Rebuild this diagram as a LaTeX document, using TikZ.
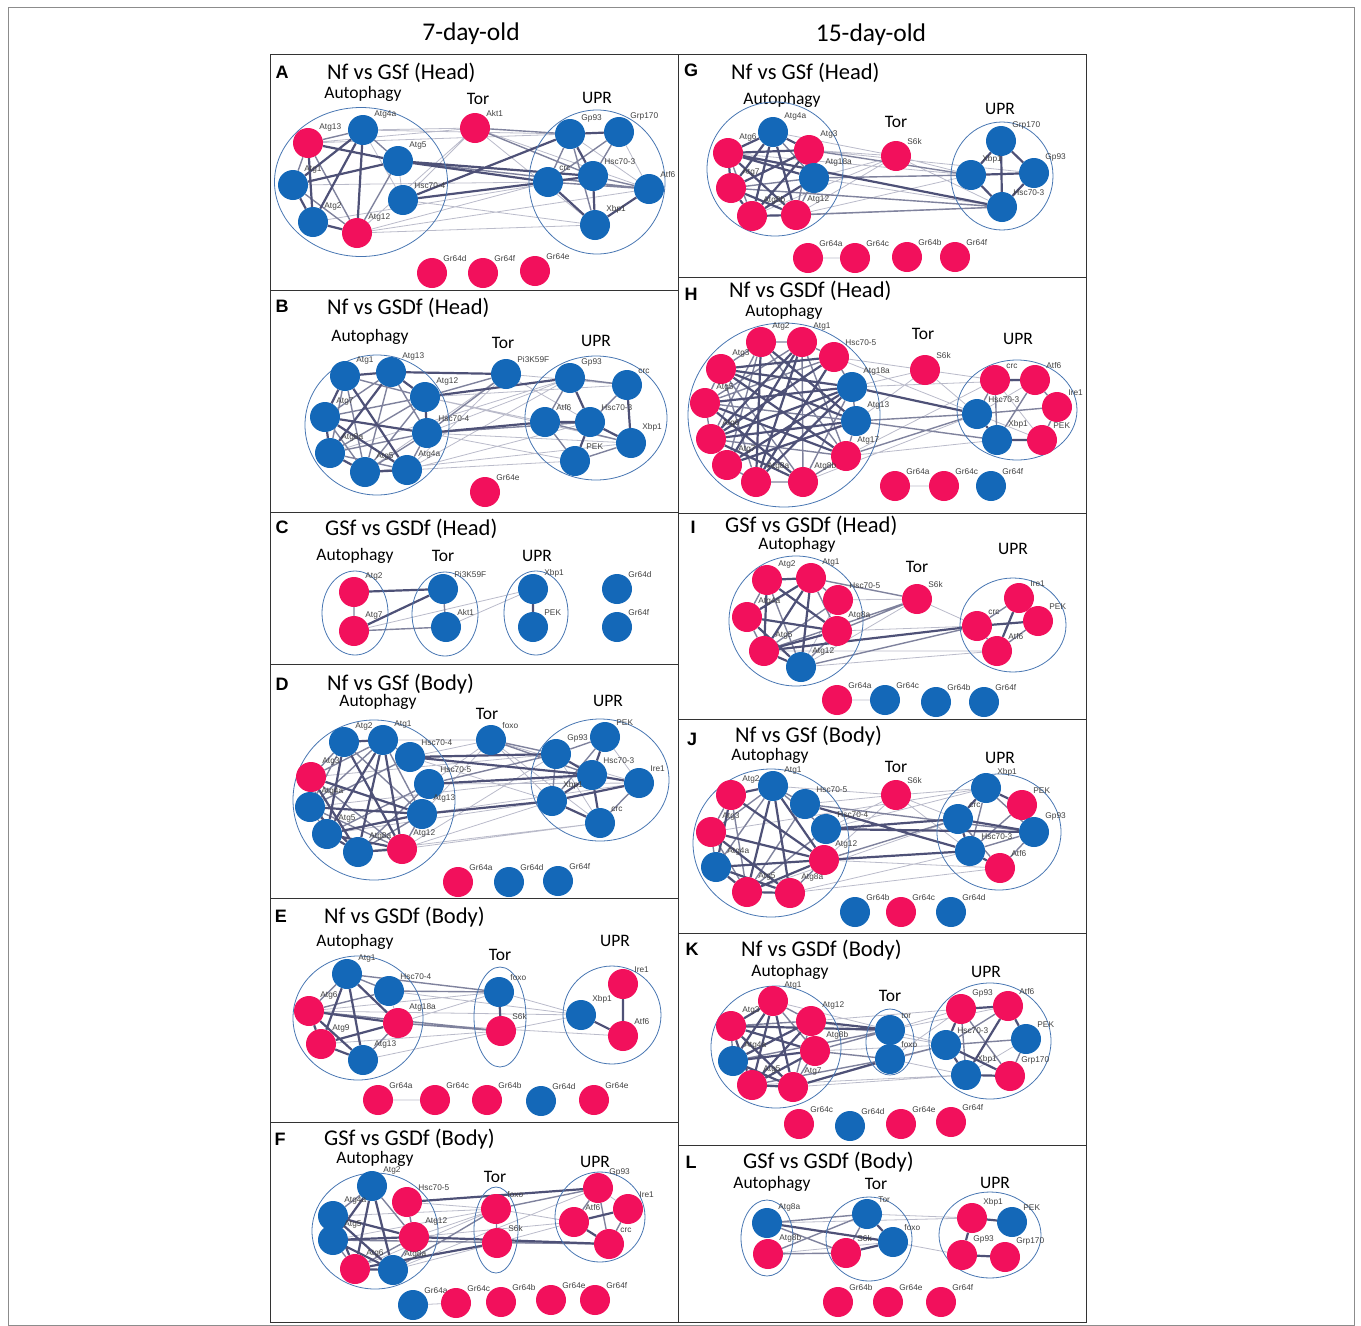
\documentclass[tikz,border=0pt]{standalone}
\usepackage{fontspec}
\setmainfont{Liberation Sans}
\newfontfamily\titlefont{Carlito}
\usetikzlibrary{shapes.geometric,backgrounds}
\definecolor{genered}{RGB}{242,16,92}
\definecolor{geneblue}{RGB}{20,104,184}
\definecolor{edgec}{RGB}{58,62,104}
\definecolor{ringc}{RGB}{72,118,178}

\begin{document}
\begin{tikzpicture}[
    x=1pt, y=-1pt,
    gene/.style={circle, minimum size=30pt, inner sep=0pt},
    gr/.style={gene, fill=genered, label={[lab]45:#1}},
    gb/.style={gene, fill=geneblue, label={[lab]45:#1}},
    lab/.style={font=\fontsize{8.3}{9}\selectfont, text=black!75, inner sep=0.5pt},
    grp/.style={ellipse, draw=ringc, line width=0.8pt, inner sep=0pt},
    se/.style={draw=edgec!90, line width=2.2pt},
    me/.style={draw=edgec!65, line width=1.4pt},
    we/.style={draw=edgec!35, line width=0.8pt},
    ttl/.style={font=\titlefont\fontsize{22.5}{25}\selectfont, anchor=west, inner sep=0pt},
    head/.style={font=\titlefont\fontsize{25.5}{28}\selectfont},
    grl/.style={font=\titlefont\fontsize{17.5}{19}\selectfont, inner sep=0pt},
    pl/.style={font=\bfseries\fontsize{18}{20}\selectfont},
    frame/.style={draw=black!80, line width=0.8pt}
]
\useasboundingbox (0,0) rectangle (1361,1326);

% frames and column heads
\draw[draw=black!45, line width=0.6pt] (8,7) rectangle (1354,1325);
\draw[frame] (270,54) rectangle (1086,1322);
\draw[frame] (678,54) -- (678,1322);
\draw[frame] (270,290) -- (678,290) (270,512) -- (678,512) (270,664) -- (678,664)
    (270,898) -- (678,898) (270,1122) -- (678,1122);
\draw[frame] (678,277) -- (1086,277) (678,513) -- (1086,513) (678,719) -- (1086,719)
    (678,933) -- (1086,933) (678,1145) -- (1086,1145);
\node[head] (h7) at (471,34) {7-day-old};
\node[head] (h15) at (871,35) {15-day-old};

% ---------- A ----------
\node[pl] (pA) at (282,72) {A};
\node[ttl] (tA) at (327,73) {Nf vs GSf (Head)};
\node[grl] (lA1) at (363,94) {Autophagy};
\node[grl] (lA2) at (478,99) {Tor};
\node[grl] (lA3) at (597,98) {UPR};
\node[grp, minimum width=173pt, minimum height=149pt] (eA1) at (361,182) {};
\node[grp, minimum width=136pt, minimum height=144pt] (eA2) at (597,182) {};
\node[gr=Atg13] (Aa13) at (308,143) {};
\node[gb=Atg4a] (Aa4) at (363,130) {};
\node[gb=Atg5] (Aa5) at (398,161) {};
\node[gb=Atg1] (Aa1) at (293,185) {};
\node[gb=Hsc70-4] (Ah4) at (403,200) {};
\node[gb=Atg2] (Aa2) at (313,222) {};
\node[gr=Atg12] (Aa12) at (357,233) {};
\node[gr=Akt1] (Aakt) at (475,128) {};
\node[gb=Gp93] (Agp) at (570,134) {};
\node[gb=Grp170] (Agrp) at (619,132) {};
\node[gb=crc] (Acrc) at (548,182) {};
\node[gb=Hsc70-3] (Ah3) at (593,176) {};
\node[gb=Atf6] (Aatf) at (649,189) {};
\node[gb=Xbp1] (Axbp) at (595,225) {};
\node[gr=Gr64d] (Ag64d) at (432,273) {};
\node[gr=Gr64f] (Ag64f) at (483,273) {};
\node[gr=Gr64e] (Ag64e) at (535,271) {};
\begin{scope}[on background layer]
\draw[we] (Aa5) -- (Ah4) (Aa4) -- (Ah4) (Aa4) -- (Aakt) (Aa13) -- (Aakt) (Aakt) -- (Ah4)
    (Aakt) -- (Aa12) (Aakt) -- (Axbp) (Aakt) -- (Aatf) (Aa12) -- (Acrc) (Aa12) -- (Axbp)
    (Aa12) -- (Aatf) (Aa2) -- (Ah3) (Aa4) -- (Agp) (Aa13) -- (Agp) (Agrp) -- (Aatf)
    (Agp) -- (Aatf) (Ah4) -- (Axbp) (Aa1) -- (Acrc);
\draw[me] (Aa13) -- (Aa4) (Aa13) -- (Aa1) (Aa13) -- (Aa12) (Aa4) -- (Aa5) (Aa5) -- (Aa12)
    (Aa1) -- (Aa12) (Aakt) -- (Agp) (Aakt) -- (Ah3) (Agp) -- (Acrc) (Agrp) -- (Ah3)
    (Agrp) -- (Acrc) (Ah3) -- (Aatf) (Acrc) -- (Aatf) (Aa5) -- (Aatf) (Agp) -- (Axbp);
\draw[se] (Aa13) -- (Aa5) (Aa4) -- (Aa1) (Aa4) -- (Aa2) (Aa4) -- (Aa12) (Aa5) -- (Aa1)
    (Aa1) -- (Aa2) (Aa2) -- (Aa12) (Aa13) -- (Aa2) (Aa5) -- (Ah3) (Ah4) -- (Agp)
    (Ah4) -- (Acrc) (Agp) -- (Agrp) (Agp) -- (Ah3) (Acrc) -- (Ah3) (Axbp) -- (Aatf)
    (Ah3) -- (Axbp) (Acrc) -- (Axbp) (Aa5) -- (Acrc);
\end{scope}

% ---------- B ----------
\node[pl] (pB) at (282,306) {B};
\node[ttl] (tB) at (327,308) {Nf vs GSDf (Head)};
\node[grl] (lB1) at (370,337) {Autophagy};
\node[grl] (lB2) at (503,343) {Tor};
\node[grl] (lB3) at (596,341) {UPR};
\node[grp, minimum width=144pt, minimum height=140pt] (eB1) at (377,425) {};
\node[grp, minimum width=142pt, minimum height=124pt] (eB2) at (596,418) {};
\node[gb=Atg1] (Ba1) at (345,376) {};
\node[gb=Atg13] (Ba13) at (391,372) {};
\node[gb=Atg12] (Ba12) at (425,397) {};
\node[gb=Atg7] (Ba7) at (325,417) {};
\node[gb=Hsc70-4] (Bh4) at (427,433) {};
\node[gb=Atg8a] (Ba8) at (330,453) {};
\node[gb=Atg5] (Ba5) at (365,472) {};
\node[gb=Atg4a] (Ba4) at (407,470) {};
\node[gb=Pi3K59F] (Bpi) at (506,374) {};
\node[gb=Gp93] (Bgp) at (570,378) {};
\node[gb=crc] (Bcrc) at (627,385) {};
\node[gb=Atf6] (Batf) at (545,422) {};
\node[gb=Hsc70-3] (Bh3) at (590,422) {};
\node[gb=Xbp1] (Bxbp) at (631,443) {};
\node[gb=PEK] (Bpek) at (575,461) {};
\node[gr=Gr64e] (Bg64e) at (485,492) {};
\begin{scope}[on background layer]
\draw[we] (Bpi) -- (Bcrc) (Bpi) -- (Bh3) (Bpi) -- (Ba4) (Bpi) -- (Ba5) (Ba4) -- (Bpek)
    (Ba4) -- (Bh3) (Ba5) -- (Bxbp) (Ba12) -- (Bcrc) (Ba12) -- (Bxbp) (Bh4) -- (Bgp)
    (Bh4) -- (Bpek) (Ba8) -- (Bgp) (Ba4) -- (Bgp) (Ba12) -- (Batf) (Bh4) -- (Bxbp);
\draw[me] (Ba1) -- (Ba12) (Ba1) -- (Ba8) (Ba1) -- (Ba5) (Ba13) -- (Ba7) (Ba13) -- (Ba5)
    (Ba13) -- (Bh4) (Ba12) -- (Ba7) (Ba12) -- (Ba5) (Ba12) -- (Ba8) (Ba7) -- (Ba5)
    (Ba8) -- (Ba4) (Ba8) -- (Bh4) (Bh4) -- (Ba4) (Ba5) -- (Bh4) (Bh4) -- (Bh3)
    (Ba12) -- (Bpi) (Bgp) -- (Batf) (Bgp) -- (Bcrc) (Batf) -- (Bpek) (Bcrc) -- (Bh3)
    (Bxbp) -- (Bpek) (Batf) -- (Bxbp) (Bpi) -- (Bh4);
\draw[se] (Ba1) -- (Ba13) (Ba13) -- (Bpi) (Ba1) -- (Ba7) (Ba7) -- (Ba8) (Ba8) -- (Ba5)
    (Ba5) -- (Ba4) (Ba13) -- (Ba12) (Ba12) -- (Bh4) (Ba1) -- (Ba4) (Ba13) -- (Ba8)
    (Ba7) -- (Bh4) (Ba7) -- (Ba4) (Bh4) -- (Batf) (Bgp) -- (Bh3) (Batf) -- (Bh3)
    (Bh3) -- (Bpek) (Bh3) -- (Bxbp) (Bcrc) -- (Bxbp) (Ba12) -- (Bgp);
\end{scope}

% ---------- C ----------
\node[pl] (pC) at (282,527) {C};
\node[ttl] (tC) at (325,529) {GSf vs GSDf (Head)};
\node[grl] (lC1) at (355,556) {Autophagy};
\node[grl] (lC2) at (443,556) {Tor};
\node[grl] (lC3) at (537,556) {UPR};
\node[grp, minimum width=66pt, minimum height=84pt] (eC1) at (355,613) {};
\node[grp, minimum width=66pt, minimum height=84pt] (eC2) at (445,614) {};
\node[grp, minimum width=64pt, minimum height=84pt] (eC3) at (536,613) {};
\node[gr=Atg2] (Ca2) at (354,592) {};
\node[gr=Atg7] (Ca7) at (354,631) {};
\node[gb=Pi3K59F] (Cpi) at (443,589) {};
\node[gb=Akt1] (Cakt) at (446,627) {};
\node[gb=Xbp1] (Cxbp) at (533,589) {};
\node[gb=PEK] (Cpek) at (533,627) {};
\node[gb=Gr64d] (Cg64d) at (617,589) {};
\node[gb=Gr64f] (Cg64f) at (617,627) {};
\begin{scope}[on background layer]
\draw[we] (Ca7) -- (Cxbp) (Cakt) -- (Cxbp);
\draw[me] (Ca2) -- (Ca7) (Ca7) -- (Cakt) (Cpi) -- (Cakt);
\draw[se] (Ca2) -- (Cpi) (Ca7) -- (Cpi) (Cxbp) -- (Cpek);
\end{scope}

% ---------- D ----------
\node[pl] (pD) at (282,684) {D};
\node[ttl] (tD) at (327,684) {Nf vs GSf (Body)};
\node[grl] (lD1) at (378,702) {Autophagy};
\node[grl] (lD2) at (487,714) {Tor};
\node[grl] (lD3) at (608,701) {UPR};
\node[grp, minimum width=162pt, minimum height=160pt] (eD1) at (374,800) {};
\node[grp, minimum width=138pt, minimum height=122pt] (eD2) at (600,780) {};
\node[gb=Atg2] (Da2) at (344,742) {};
\node[gb=Atg1] (Da1) at (383,740) {};
\node[gb=Hsc70-4] (Dh4) at (410,757) {};
\node[gr=Atg3] (Da3) at (311,777) {};
\node[gb=Hsc70-5] (Dh5) at (429,784) {};
\node[gb=Atg4a] (Da4) at (310,807) {};
\node[gb=Atg13] (Da13) at (422,814) {};
\node[gb=Atg5] (Da5) at (327,834) {};
\node[gb=Atg8a] (Da8) at (358,852) {};
\node[gr=Atg12] (Da12) at (402,849) {};
\node[gb=foxo] (Dfoxo) at (491,740) {};
\node[gb=Gp93] (Dgp) at (556,754) {};
\node[gb=PEK] (Dpek) at (605,737) {};
\node[gb=Hsc70-3] (Dh3) at (592,775) {};
\node[gb=Ire1] (Dire) at (639,783) {};
\node[gb=Xbp1] (Dxbp) at (552,801) {};
\node[gb=crc] (Dcrc) at (600,823) {};
\node[gr=Gr64a] (Dg64a) at (458,882) {};
\node[gb=Gr64d] (Dg64d) at (509,882) {};
\node[gb=Gr64f] (Dg64f) at (558,881) {};
\begin{scope}[on background layer]
\draw[we] (Da1) -- (Dfoxo) (Dh4) -- (Dfoxo) (Dh5) -- (Dfoxo) (Da13) -- (Dfoxo)
    (Dfoxo) -- (Dxbp) (Dfoxo) -- (Dcrc) (Dfoxo) -- (Dire) (Da12) -- (Dcrc) (Da12) -- (Dxbp)
    (Da8) -- (Dcrc) (Da5) -- (Dxbp) (Da4) -- (Dh3) (Da3) -- (Dgp) (Da13) -- (Dire)
    (Dh5) -- (Dire) (Dh4) -- (Dxbp) (Da12) -- (Dgp) (Dpek) -- (Dire) (Dgp) -- (Dcrc);
\draw[me] (Da2) -- (Da3) (Da2) -- (Da4) (Da2) -- (Da13) (Da1) -- (Da3) (Da1) -- (Da4)
    (Da1) -- (Dh4) (Da1) -- (Da13) (Da3) -- (Da4) (Da3) -- (Da5) (Da3) -- (Da12)
    (Da4) -- (Da5) (Da4) -- (Da12) (Da13) -- (Da8) (Da13) -- (Da12) (Dh5) -- (Da8)
    (Dh5) -- (Da5) (Dh4) -- (Da4) (Dfoxo) -- (Dgp) (Dfoxo) -- (Dh3) (Dgp) -- (Dxbp)
    (Dgp) -- (Dpek) (Dpek) -- (Dxbp) (Dcrc) -- (Dire) (Dh5) -- (Dgp);
\draw[se] (Da2) -- (Da1) (Da2) -- (Da5) (Da1) -- (Da5) (Da1) -- (Da12) (Da3) -- (Da13)
    (Da3) -- (Da8) (Da4) -- (Da13) (Da4) -- (Da8) (Da5) -- (Da8) (Da5) -- (Da12)
    (Da8) -- (Da12) (Da2) -- (Da12) (Da1) -- (Da8) (Da13) -- (Da5) (Dh4) -- (Dgp)
    (Dh5) -- (Dh3) (Dh4) -- (Dh3) (Da13) -- (Dxbp) (Dgp) -- (Dh3) (Dpek) -- (Dh3)
    (Dxbp) -- (Dh3) (Dh3) -- (Dcrc) (Dxbp) -- (Dcrc) (Dh3) -- (Dire) (Dxbp) -- (Dire);
\end{scope}

% ---------- E ----------
\node[pl] (pE) at (281,916) {E};
\node[ttl] (tE) at (324,917) {Nf vs GSDf (Body)};
\node[grl] (lE1) at (355,942) {Autophagy};
\node[grl] (lE2) at (500,955) {Tor};
\node[grl] (lE3) at (615,941) {UPR};
\node[grp, minimum width=130pt, minimum height=124pt] (eE1) at (358,1018) {};
\node[grp, minimum width=52pt, minimum height=100pt] (eE2) at (500,1017) {};
\node[grp, minimum width=98pt, minimum height=98pt] (eE3) at (612,1015) {};
\node[gb=Atg1] (Ea1) at (347,974) {};
\node[gb=Hsc70-4] (Eh4) at (389,991) {};
\node[gr=Atg6] (Ea6) at (309,1011) {};
\node[gr=Atg18a] (Ea18) at (398,1023) {};
\node[gr=Atg9] (Ea9) at (321,1044) {};
\node[gb=Atg13] (Ea13) at (363,1060) {};
\node[gb=foxo] (Efoxo) at (499,992) {};
\node[gr=S6k] (Es6k) at (501,1031) {};
\node[gr=Ire1] (Eire) at (623,984) {};
\node[gb=Xbp1] (Exbp) at (581,1015) {};
\node[gr=Atf6] (Eatf) at (623,1036) {};
\node[gr=Gr64a] (Eg64a) at (378,1100) {};
\node[gr=Gr64c] (Eg64c) at (435,1100) {};
\node[gr=Gr64b] (Eg64b) at (487,1100) {};
\node[gb=Gr64d] (Eg64d) at (541,1101) {};
\node[gr=Gr64e] (Eg64e) at (594,1100) {};
\begin{scope}[on background layer]
\draw[we] (Eh4) -- (Ea18) (Eh4) -- (Exbp) (Ea6) -- (Efoxo) (Ea18) -- (Efoxo) (Ea9) -- (Es6k)
    (Ea13) -- (Es6k) (Efoxo) -- (Exbp) (Es6k) -- (Exbp) (Ea6) -- (Exbp) (Ea18) -- (Eatf)
    (Eg64a) -- (Eg64c);
\draw[me] (Ea1) -- (Eh4) (Ea1) -- (Ea6) (Eh4) -- (Ea6) (Ea18) -- (Ea13) (Ea1) -- (Efoxo)
    (Eh4) -- (Efoxo) (Ea18) -- (Es6k) (Ea6) -- (Es6k);
\draw[se] (Ea6) -- (Ea18) (Ea6) -- (Ea13) (Ea1) -- (Ea13) (Ea9) -- (Ea18) (Ea9) -- (Ea13)
    (Ea1) -- (Ea9) (Ea6) -- (Ea9) (Exbp) -- (Eatf) (Eire) -- (Eatf) (Efoxo) -- (Es6k)
    (Ea1) -- (Ea18);
\end{scope}

% ---------- F ----------
\node[pl] (pF) at (280,1139) {F};
\node[ttl] (tF) at (324,1139) {GSf vs GSDf (Body)};
\node[grl] (lF1) at (375,1159) {Autophagy};
\node[grl] (lF2) at (495,1177) {Tor};
\node[grl] (lF3) at (595,1162) {UPR};
\node[grp, minimum width=126pt, minimum height=116pt] (eF1) at (375,1231) {};
\node[grp, minimum width=44pt, minimum height=86pt] (eF2) at (496,1230) {};
\node[grp, minimum width=90pt, minimum height=90pt] (eF3) at (600,1217) {};
\node[gb=Atg2] (Fa2) at (372,1186) {};
\node[gr=Hsc70-5] (Fh5) at (407,1202) {};
\node[gb=Atg4a] (Fa4) at (333,1216) {};
\node[gr=Atg12] (Fa12) at (414,1237) {};
\node[gb=Atg5] (Fa5) at (333,1240) {};
\node[gr=Atg6] (Fa6) at (355,1269) {};
\node[gb=Atg8a] (Fa8) at (393,1270) {};
\node[gr=foxo] (Ffoxo) at (496,1209) {};
\node[gr=S6k] (Fs6k) at (497,1243) {};
\node[gr=Gp93] (Fgp) at (598,1188) {};
\node[gr=Ire1] (Fire) at (628,1209) {};
\node[gr=Atf6] (Fatf) at (574,1222) {};
\node[gr=crc] (Fcrc) at (609,1244) {};
\node[gb=Gr64a] (Fg64a) at (413,1305) {};
\node[gr=Gr64c] (Fg64c) at (456,1303) {};
\node[gr=Gr64b] (Fg64b) at (501,1302) {};
\node[gr=Gr64e] (Fg64e) at (551,1300) {};
\node[gr=Gr64f] (Fg64f) at (595,1300) {};
\begin{scope}[on background layer]
\draw[we] (Fa4) -- (Ffoxo) (Fa5) -- (Ffoxo) (Fa6) -- (Ffoxo) (Fa12) -- (Ffoxo) (Fa8) -- (Fs6k)
    (Fh5) -- (Ffoxo) (Fs6k) -- (Fcrc) (Ffoxo) -- (Fatf) (Fs6k) -- (Fatf) (Fgp) -- (Fire)
    (Fa12) -- (Fatf) (Fa8) -- (Fgp) (Fg64a) -- (Fg64c);
\draw[me] (Fa2) -- (Fa4) (Fa2) -- (Fa12) (Fa4) -- (Fa5) (Fa5) -- (Fa6) (Fa12) -- (Fa8)
    (Fa12) -- (Fa6) (Fh5) -- (Fa12) (Ffoxo) -- (Fs6k) (Ffoxo) -- (Fgp) (Fgp) -- (Fatf)
    (Fgp) -- (Fcrc) (Fire) -- (Fcrc) (Fa8) -- (Ffoxo) (Fa5) -- (Fcrc);
\draw[se] (Fa2) -- (Fa5) (Fa2) -- (Fa6) (Fa2) -- (Fa8) (Fa4) -- (Fa12) (Fa4) -- (Fa8)
    (Fa5) -- (Fa12) (Fa5) -- (Fa8) (Fa6) -- (Fa8) (Fa4) -- (Fa6) (Fh5) -- (Fgp)
    (Fa12) -- (Fcrc) (Fatf) -- (Fire) (Fatf) -- (Fcrc) (Fa6) -- (Fs6k);
\end{scope}

% ---------- G ----------
\node[pl] (pG) at (691,70) {G};
\node[ttl] (tG) at (731,73) {Nf vs GSf (Head)};
\node[grl] (lG1) at (782,100) {Autophagy};
\node[grl] (lG2) at (896,122) {Tor};
\node[grl] (lG3) at (1000,109) {UPR};
\node[grp, minimum width=136pt, minimum height=134pt] (eG1) at (775,169) {};
\node[grp, minimum width=102pt, minimum height=108pt] (eG2) at (1002,176) {};
\node[gb=Atg4a] (Ga4) at (773,132) {};
\node[gr=Atg6] (Ga6) at (728,153) {};
\node[gr=Atg3] (Ga3) at (809,150) {};
\node[gb=Atg18a] (Ga18) at (814,178) {};
\node[gr=Atg7] (Ga7) at (731,188) {};
\node[gr=Atg8b] (Ga8b) at (752,216) {};
\node[gr=Atg12] (Ga12) at (796,215) {};
\node[gr=S6k] (Gs6k) at (896,156) {};
\node[gb=Grp170] (Ggrp) at (1001,141) {};
\node[gb=Xbp1] (Gxbp) at (971,175) {};
\node[gb=Gp93] (Ggp) at (1034,173) {};
\node[gb=Hsc70-3] (Gh3) at (1002,207) {};
\node[gr=Gr64a] (Gg64a) at (808,258) {};
\node[gr=Gr64c] (Gg64c) at (855,258) {};
\node[gr=Gr64b] (Gg64b) at (907,257) {};
\node[gr=Gr64f] (Gg64f) at (955,257) {};
\begin{scope}[on background layer]
\draw[we] (Ga4) -- (Gs6k) (Ga3) -- (Gs6k) (Ga18) -- (Gs6k) (Ga12) -- (Gs6k) (Ga8b) -- (Gs6k)
    (Gs6k) -- (Gxbp) (Gs6k) -- (Gh3) (Ga12) -- (Gxbp) (Ga8b) -- (Gh3) (Ga3) -- (Ggp)
    (Ga18) -- (Gh3) (Ga6) -- (Gxbp) (Gg64a) -- (Gg64c);
\draw[me] (Ga4) -- (Ga18) (Ga6) -- (Ga8b) (Ga3) -- (Ga12) (Ga18) -- (Ga7) (Ga18) -- (Ga12)
    (Ga7) -- (Gh3) (Ga12) -- (Gh3) (Ga3) -- (Gxbp) (Ga18) -- (Gxbp);
\draw[se] (Ga4) -- (Ga6) (Ga4) -- (Ga3) (Ga4) -- (Ga7) (Ga4) -- (Ga8b) (Ga4) -- (Ga12)
    (Ga6) -- (Ga3) (Ga6) -- (Ga18) (Ga6) -- (Ga7) (Ga6) -- (Ga12) (Ga3) -- (Ga18)
    (Ga3) -- (Ga7) (Ga3) -- (Ga8b) (Ga7) -- (Ga8b) (Ga7) -- (Ga12) (Ga8b) -- (Ga12)
    (Ga18) -- (Ga8b) (Ga6) -- (Gh3) (Ggrp) -- (Gxbp) (Ggrp) -- (Ggp) (Ggrp) -- (Gh3)
    (Gxbp) -- (Ggp) (Ggp) -- (Gh3) (Gxbp) -- (Gh3);
\end{scope}

% ---------- H ----------
\node[pl] (pH) at (691,294) {H};
\node[ttl] (tH) at (729,291) {Nf vs GSDf (Head)};
\node[grl] (lH1) at (784,312) {Autophagy};
\node[grl] (lH2) at (923,334) {Tor};
\node[grl] (lH3) at (1018,339) {UPR};
\node[grp, minimum width=192pt, minimum height=184pt] (eH1) at (784,415) {};
\node[grp, minimum width=120pt, minimum height=100pt] (eH2) at (1017,410) {};
\node[gr=Atg2] (Ha2) at (761,342) {};
\node[gr=Atg1] (Ha1) at (802,342) {};
\node[gr=Hsc70-5] (Hh5) at (834,357) {};
\node[gr=Atg3] (Ha3) at (721,369) {};
\node[gb=Atg18a] (Ha18) at (852,387) {};
\node[gr=Atg5] (Ha5) at (705,403) {};
\node[gb=Atg13] (Ha13) at (856,421) {};
\node[gr=Atg6] (Ha6) at (711,439) {};
\node[gr=Atg17] (Ha17) at (846,456) {};
\node[gr=Atg7] (Ha7) at (727,465) {};
\node[gr=Atg8a] (Ha8) at (756,482) {};
\node[gr=Atg8b] (Ha8b) at (803,482) {};
\node[gr=S6k] (Hs6k) at (925,370) {};
\node[gr=crc] (Hcrc) at (995,380) {};
\node[gr=Atf6] (Hatf) at (1035,380) {};
\node[gr=Ire1] (Hire) at (1057,407) {};
\node[gb=Hsc70-3] (Hh3) at (977,414) {};
\node[gb=Xbp1] (Hxbp) at (997,440) {};
\node[gr=PEK] (Hpek) at (1042,440) {};
\node[gr=Gr64a] (Hg64a) at (895,486) {};
\node[gr=Gr64c] (Hg64c) at (944,486) {};
\node[gb=Gr64f] (Hg64f) at (991,486) {};
\begin{scope}[on background layer]
\draw[we] (Hs6k) -- (Ha18) (Hs6k) -- (Ha13) (Hs6k) -- (Hh5) (Hs6k) -- (Hcrc) (Hs6k) -- (Hh3)
    (Ha17) -- (Hcrc) (Hh3) -- (Hpek) (Hcrc) -- (Hpek) (Hatf) -- (Hh3) (Ha8b) -- (Hh3)
    (Ha17) -- (Hxbp) (Hh5) -- (Hh3) (Ha18) -- (Hatf) (Hg64a) -- (Hg64c);
\draw[me] (Ha2) -- (Ha1) -- (Hh5) -- (Ha18) -- (Ha13) -- (Ha17) -- (Ha8b) -- (Ha8)
    -- (Ha7) -- (Ha6) -- (Ha5) -- (Ha3) -- (Ha2);
\draw[me] (Ha3) -- (Ha8b) -- (Ha1) -- (Ha17) -- (Ha2) -- (Ha7) -- (Ha13) -- (Ha5)
    -- (Hh5) -- (Ha8) -- (Ha3) (Ha2) -- (Ha6) -- (Ha17) (Ha1) -- (Ha5) (Ha18) -- (Ha8b)
    (Ha13) -- (Hxbp) (Ha17) -- (Hh3) (Ha13) -- (Hh3) (Hcrc) -- (Hh3) (Hatf) -- (Hire)
    (Hire) -- (Hpek) (Hcrc) -- (Hxbp) (Hh3) -- (Hire) (Hatf) -- (Hxbp);
\draw[se] (Ha2) -- (Ha13) -- (Ha3) -- (Ha17) -- (Ha5) -- (Ha8b) -- (Ha6) -- (Ha18)
    -- (Ha7) -- (Ha1) -- (Ha8) -- (Hh5) -- (Ha6) (Ha2) -- (Ha8) -- (Ha18) -- (Ha5)
    (Ha1) -- (Ha6) -- (Ha13) -- (Ha7) (Ha3) -- (Hh5) (Ha3) -- (Ha18)
    (Ha18) -- (Hh3) (Hcrc) -- (Hatf) (Hh3) -- (Hxbp) (Hxbp) -- (Hpek);
\end{scope}

% ---------- I ----------
\node[pl] (pI) at (693,527) {I};
\node[ttl] (tI) at (725,526) {GSf vs GSDf (Head)};
\node[grl] (lI1) at (797,545) {Autophagy};
\node[grl] (lI2) at (917,567) {Tor};
\node[grl] (lI3) at (1013,549) {UPR};
\node[grp, minimum width=134pt, minimum height=130pt] (eI1) at (796,621) {};
\node[grp, minimum width=106pt, minimum height=94pt] (eI2) at (1013,625) {};
\node[gr=Atg2] (Ia2) at (767,580) {};
\node[gr=Atg1] (Ia1) at (811,578) {};
\node[gr=Hsc70-5] (Ih5) at (838,600) {};
\node[gr=Atg4a] (Ia4) at (747,617) {};
\node[gr=Atg8a] (Ia8) at (837,631) {};
\node[gr=Atg5] (Ia5) at (764,651) {};
\node[gb=Atg12] (Ia12) at (801,667) {};
\node[gr=S6k] (Is6k) at (917,599) {};
\node[gr=Ire1] (Iire) at (1019,598) {};
\node[gr=crc] (Icrc) at (977,626) {};
\node[gr=PEK] (Ipek) at (1038,621) {};
\node[gr=Atf6] (Iatf) at (997,651) {};
\node[gr=Gr64a] (Ig64a) at (837,700) {};
\node[gb=Gr64c] (Ig64c) at (885,700) {};
\node[gb=Gr64b] (Ig64b) at (936,702) {};
\node[gb=Gr64f] (Ig64f) at (984,702) {};
\begin{scope}[on background layer]
\draw[we] (Ia12) -- (Is6k) (Ih5) -- (Is6k) (Is6k) -- (Icrc) (Ia5) -- (Iatf) (Ia12) -- (Iatf)
    (Ia8) -- (Icrc) (Ih5) -- (Ia12) (Ig64a) -- (Ig64c);
\draw[me] (Ia2) -- (Ia4) (Ia2) -- (Ia12) (Ia1) -- (Ia8) (Ia1) -- (Ih5) (Ia4) -- (Ia5)
    (Ih5) -- (Ia5) (Ia8) -- (Ia12) (Ia8) -- (Is6k) (Ia5) -- (Is6k) (Ia1) -- (Is6k)
    (Icrc) -- (Iatf) (Icrc) -- (Iire) (Ipek) -- (Iatf) (Ia12) -- (Icrc);
\draw[se] (Ia2) -- (Ia1) (Ia2) -- (Ia5) (Ia2) -- (Ia8) (Ia1) -- (Ia4) (Ia1) -- (Ia12)
    (Ia4) -- (Ia8) (Ia5) -- (Ia12) (Ia5) -- (Ia8) (Ia4) -- (Ia12) (Ia1) -- (Ia5)
    (Icrc) -- (Ipek) (Iire) -- (Iatf) (Ia5) -- (Icrc);
\end{scope}

% ---------- J ----------
\node[pl] (pJ) at (692,739) {J};
\node[ttl] (tJ) at (735,736) {Nf vs GSf (Body)};
\node[grl] (lJ1) at (770,756) {Autophagy};
\node[grl] (lJ2) at (896,767) {Tor};
\node[grl] (lJ3) at (1000,758) {UPR};
\node[grp, minimum width=156pt, minimum height=148pt] (eJ1) at (771,843) {};
\node[grp, minimum width=124pt, minimum height=116pt] (eJ2) at (999,832) {};
\node[gr=Atg2] (Ja2) at (731,795) {};
\node[gb=Atg1] (Ja1) at (773,786) {};
\node[gb=Hsc70-5] (Jh5) at (805,804) {};
\node[gr=Atg3] (Ja3) at (711,832) {};
\node[gb=Hsc70-4] (Jh4) at (826,829) {};
\node[gb=Atg4a] (Ja4) at (716,867) {};
\node[gr=Atg12] (Ja12) at (824,860) {};
\node[gr=Atg5] (Ja5) at (747,892) {};
\node[gr=Atg8a] (Ja8) at (790,893) {};
\node[gr=S6k] (Js6k) at (896,795) {};
\node[gb=Xbp1] (Jxbp) at (986,788) {};
\node[gr=PEK] (Jpek) at (1022,805) {};
\node[gb=crc] (Jcrc) at (958,819) {};
\node[gb=Gp93] (Jgp) at (1034,832) {};
\node[gb=Hsc70-3] (Jh3) at (970,851) {};
\node[gr=Atf6] (Jatf) at (1000,868) {};
\node[gb=Gr64b] (Jg64b) at (855,912) {};
\node[gr=Gr64c] (Jg64c) at (901,912) {};
\node[gb=Gr64d] (Jg64d) at (951,912) {};
\begin{scope}[on background layer]
\draw[we] (Ja1) -- (Js6k) (Jh5) -- (Js6k) (Jh4) -- (Js6k) (Ja12) -- (Js6k) (Js6k) -- (Jxbp)
    (Js6k) -- (Jcrc) (Js6k) -- (Jh3) (Ja8) -- (Jh3) (Ja8) -- (Jatf) (Ja5) -- (Jcrc)
    (Ja4) -- (Jh3) (Ja3) -- (Jxbp) (Ja12) -- (Jatf) (Jh4) -- (Jxbp);
\draw[me] (Ja1) -- (Ja3) (Ja1) -- (Ja4) (Ja1) -- (Jh5) (Ja1) -- (Jh4) (Ja2) -- (Ja3)
    (Ja2) -- (Ja5) (Ja3) -- (Ja4) (Ja3) -- (Ja5) (Jh5) -- (Ja5) (Jh4) -- (Ja5)
    (Ja12) -- (Ja8) (Jh5) -- (Jgp) (Ja12) -- (Jcrc) (Jxbp) -- (Jgp) (Jh3) -- (Jgp)
    (Jpek) -- (Jh3) (Jatf) -- (Jgp) (Jxbp) -- (Jh3) (Jcrc) -- (Jatf);
\draw[se] (Ja2) -- (Ja1) (Ja1) -- (Ja5) (Ja1) -- (Ja12) (Ja1) -- (Ja8) (Ja3) -- (Ja12)
    (Ja3) -- (Ja8) (Ja4) -- (Ja5) (Ja4) -- (Ja8) (Ja5) -- (Ja8) (Ja5) -- (Ja12)
    (Ja2) -- (Ja12) (Ja2) -- (Ja4) (Ja4) -- (Ja12) (Jh5) -- (Jh3) (Jh4) -- (Jgp)
    (Jh4) -- (Jcrc) (Ja12) -- (Jh3) (Jxbp) -- (Jcrc) (Jcrc) -- (Jh3) (Jh3) -- (Jatf)
    (Jxbp) -- (Jpek) (Jpek) -- (Jgp) (Jcrc) -- (Jgp);
\end{scope}

% ---------- K ----------
\node[pl] (pK) at (692,949) {K};
\node[ttl] (tK) at (741,950) {Nf vs GSDf (Body)};
\node[grl] (lK1) at (790,972) {Autophagy};
\node[grl] (lK2) at (890,996) {Tor};
\node[grl] (lK3) at (986,972) {UPR};
\node[grp, minimum width=130pt, minimum height=122pt] (eK1) at (776,1047) {};
\node[grp, minimum width=48pt, minimum height=66pt] (eK2) at (890,1042) {};
\node[grp, minimum width=122pt, minimum height=116pt] (eK3) at (990,1041) {};
\node[gr=Atg1] (Ka1) at (773,1001) {};
\node[gr=Atg12] (Ka12) at (811,1021) {};
\node[gr=Atg3] (Ka3) at (731,1026) {};
\node[gr=Atg8b] (Ka8b) at (815,1051) {};
\node[gb=Atg4a] (Ka4) at (733,1061) {};
\node[gr=Atg5] (Ka5) at (752,1085) {};
\node[gr=Atg7] (Ka7) at (793,1087) {};
\node[gb=tor] (Ktor) at (890,1030) {};
\node[gb=foxo] (Kfoxo) at (890,1059) {};
\node[gr=Gp93] (Kgp) at (961,1009) {};
\node[gr=Atf6] (Katf) at (1008,1006) {};
\node[gb=Hsc70-3] (Kh3) at (946,1045) {};
\node[gb=PEK] (Kpek) at (1026,1039) {};
\node[gb=Xbp1] (Kxbp) at (966,1075) {};
\node[gr=Grp170] (Kgrp) at (1010,1076) {};
\node[gr=Gr64c] (Kg64c) at (799,1124) {};
\node[gb=Gr64d] (Kg64d) at (850,1126) {};
\node[gr=Gr64e] (Kg64e) at (901,1124) {};
\node[gr=Gr64f] (Kg64f) at (951,1122) {};
\begin{scope}[on background layer]
\draw[we] (Ka1) -- (Ktor) (Ka12) -- (Kgp) (Ktor) -- (Kgp) (Ktor) -- (Kh3) (Ktor) -- (Katf)
    (Kfoxo) -- (Kxbp) (Kfoxo) -- (Kgp) (Ka7) -- (Kh3) (Ka5) -- (Kxbp) (Ka7) -- (Kxbp)
    (Ka12) -- (Kh3) (Ka8b) -- (Kh3) (Kpek) -- (Kxbp);
\draw[me] (Ka1) -- (Ka12) (Ka1) -- (Ka8b) (Ka3) -- (Ka4) (Ka3) -- (Ka12) (Ka12) -- (Ka8b)
    (Ka12) -- (Ka7) (Ka4) -- (Ka5) (Ka8b) -- (Ka7) (Ka8b) -- (Ktor) (Ka8b) -- (Kfoxo)
    (Ka4) -- (Ktor) (Ka5) -- (Kfoxo) (Ktor) -- (Kfoxo) (Kfoxo) -- (Kh3) (Kgp) -- (Kxbp)
    (Katf) -- (Kh3) (Kpek) -- (Kgrp) (Kh3) -- (Kpek) (Kgp) -- (Kgrp);
\draw[se] (Ka1) -- (Ka3) (Ka1) -- (Ka4) (Ka1) -- (Ka5) (Ka1) -- (Ka7) (Ka3) -- (Ka8b)
    (Ka3) -- (Ka7) (Ka12) -- (Ka4) (Ka12) -- (Ka5) (Ka8b) -- (Ka5) (Ka8b) -- (Ka4)
    (Ka4) -- (Ka7) (Ka5) -- (Ka7) (Ka3) -- (Ka5) (Ka12) -- (Ktor) (Ka7) -- (Kfoxo)
    (Ka3) -- (Ktor) (Kgp) -- (Katf) (Kgp) -- (Kh3) (Kh3) -- (Kxbp) (Katf) -- (Kpek)
    (Kxbp) -- (Kgrp) (Kh3) -- (Kgrp) (Kxbp) -- (Katf);
\end{scope}

% ---------- L ----------
\node[pl] (pL) at (691,1162) {L};
\node[ttl] (tL) at (743,1162) {GSf vs GSDf (Body)};
\node[grl] (lL1) at (772,1184) {Autophagy};
\node[grl] (lL2) at (876,1184) {Tor};
\node[grl] (lL3) at (995,1183) {UPR};
\node[grp, minimum width=52pt, minimum height=76pt] (eL1) at (767,1238) {};
\node[grp, minimum width=86pt, minimum height=84pt] (eL2) at (869,1239) {};
\node[grp, minimum width=102pt, minimum height=86pt] (eL3) at (990,1235) {};
\node[gb=Atg8a] (La8) at (767,1223) {};
\node[gr=Atg8b] (La8b) at (768,1254) {};
\node[gb=Tor] (Ltor) at (867,1214) {};
\node[gb=foxo] (Lfoxo) at (893,1242) {};
\node[gr=S6k] (Ls6k) at (846,1253) {};
\node[gr=Xbp1] (Lxbp) at (972,1218) {};
\node[gb=PEK] (Lpek) at (1012,1222) {};
\node[gr=Gp93] (Lgp) at (962,1255) {};
\node[gr=Grp170] (Lgrp) at (1005,1257) {};
\node[gr=Gr64b] (Lg64b) at (838,1302) {};
\node[gr=Gr64e] (Lg64e) at (888,1302) {};
\node[gr=Gr64f] (Lg64f) at (941,1302) {};
\begin{scope}[on background layer]
\draw[we] (La8b) -- (Lfoxo) (Ltor) -- (Lxbp) (Lfoxo) -- (Lgp) (La8) -- (Lxbp);
\draw[me] (La8) -- (Ltor) (La8) -- (Ls6k) (La8b) -- (Ltor) (Ltor) -- (Ls6k) (La8b) -- (Ls6k);
\draw[se] (La8) -- (Lfoxo) (Ltor) -- (Lfoxo) (Ls6k) -- (Lfoxo) (Lxbp) -- (Lpek)
    (Lgp) -- (Lgrp) (Lxbp) -- (Lgp);
\end{scope}
\end{tikzpicture}
\end{document}
